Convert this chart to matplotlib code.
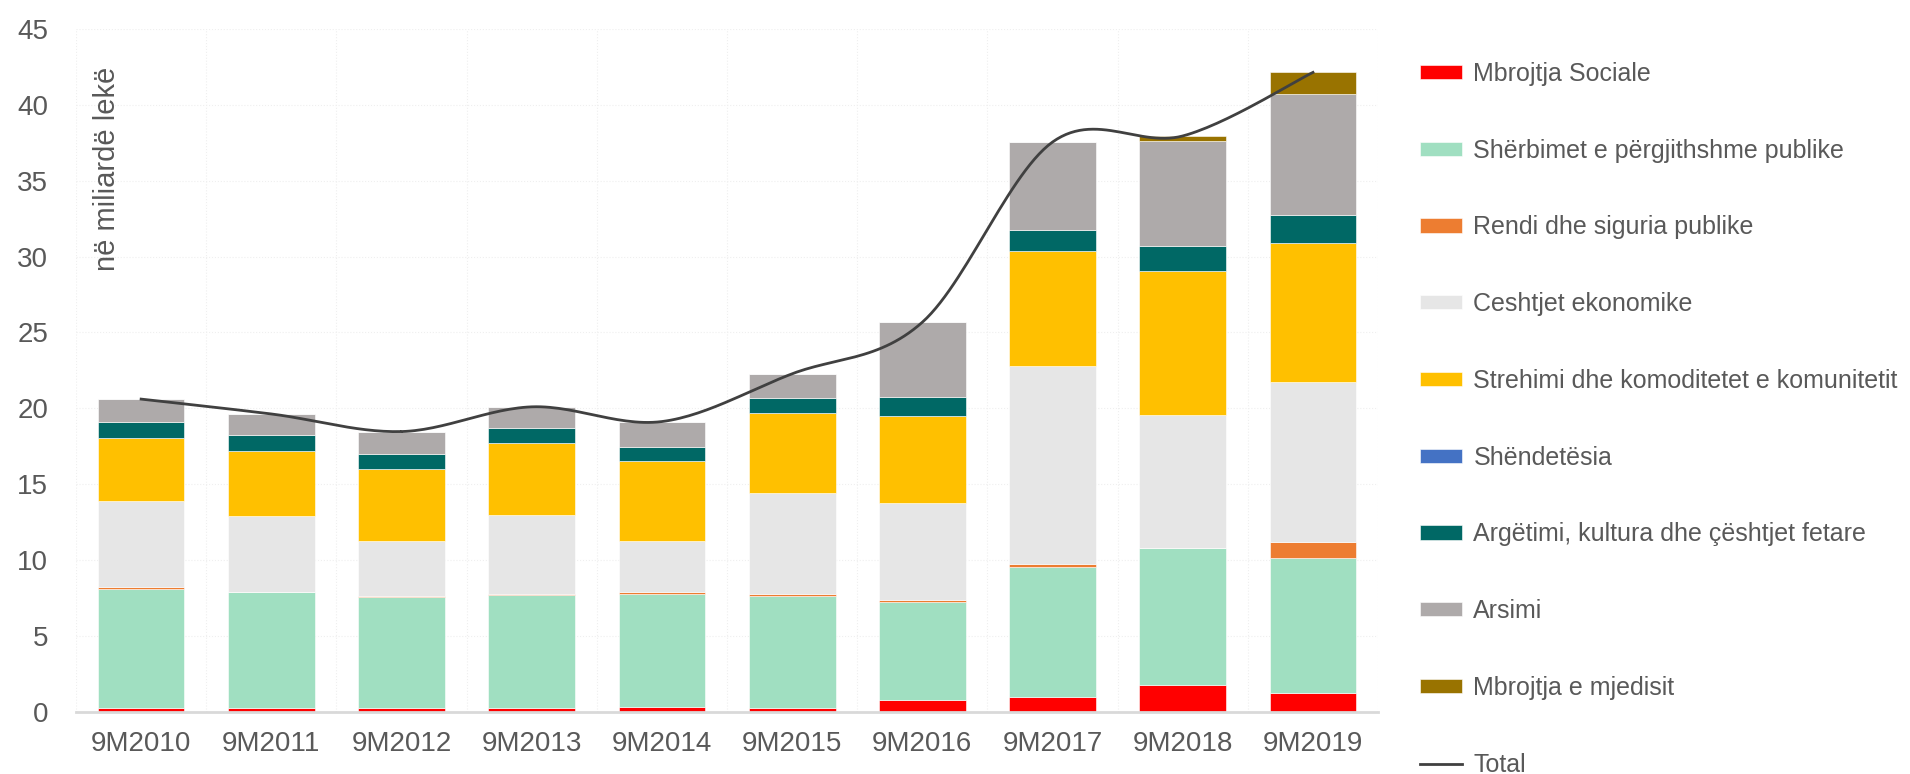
import numpy as np
import matplotlib.pyplot as plt

plt.rcParams['font.family'] = ['Liberation Sans', 'DejaVu Sans']

# te dhenat (miliarde leke)
vitet = ['9M2010', '9M2011', '9M2012', '9M2013', '9M2014',
         '9M2015', '9M2016', '9M2017', '9M2018', '9M2019']
mbrojtja_sociale = [0.25, 0.25, 0.25, 0.24, 0.29, 0.24, 0.73, 0.99, 1.75, 1.22]
sherbimet_publike = [7.83, 7.60, 7.33, 7.45, 7.49, 7.40, 6.51, 8.57, 9.00, 8.93]
rendi_siguria = [0.10, 0.06, 0.07, 0.09, 0.09, 0.12, 0.12, 0.17, 0.06, 1.06]
ceshtjet_ekonomike = [5.70, 4.98, 3.59, 5.18, 3.40, 6.66, 6.42, 13.02, 8.77, 10.55]
strehimi = [4.15, 4.32, 4.72, 4.77, 5.22, 5.29, 5.73, 7.62, 9.47, 9.10]
shendetesia = [0, 0, 0, 0, 0, 0, 0, 0, 0, 0]
argetimi = [1.03, 0.99, 0.99, 0.98, 0.95, 0.98, 1.22, 1.38, 1.65, 1.91]
arsimi = [1.54, 1.42, 1.51, 1.38, 1.63, 1.58, 4.94, 5.80, 6.92, 7.95]
mjedisi = [0, 0, 0, 0, 0.05, 0, 0, 0, 0.33, 1.42]

seri = [
    ('Mbrojtja Sociale', mbrojtja_sociale, '#FF0000'),
    ('Shërbimet e përgjithshme publike', sherbimet_publike, '#A0DFC1'),
    ('Rendi dhe siguria publike', rendi_siguria, '#ED7D31'),
    ('Ceshtjet ekonomike', ceshtjet_ekonomike, '#E6E6E6'),
    ('Strehimi dhe komoditetet e komunitetit', strehimi, '#FFC000'),
    ('Shëndetësia', shendetesia, '#4472C4'),
    ('Argëtimi, kultura dhe çështjet fetare', argetimi, '#006865'),
    ('Arsimi', arsimi, '#AEAAAA'),
    ('Mbrojtja e mjedisit', mjedisi, '#997300'),
]

fig = plt.figure(figsize=(19.1, 7.74), dpi=100)
ax = fig.add_axes([0.0398, 0.0807, 0.6817, 0.8818])

x = np.arange(len(vitet))
baza = np.zeros(len(vitet))
for emri, vlerat, ngjyra in seri:
    ax.bar(x, vlerat, 0.666, bottom=baza, color=ngjyra, label=emri,
           edgecolor='white', linewidth=0.4)
    baza = baza + np.array(vlerat)

# linja e lemuar e totalit (si ne Excel)
total = baza
p = np.concatenate([[total[0]], total, [total[-1]]])
px = np.concatenate([[x[0]], x, [x[-1]]])
xs, ys = [], []
t = np.linspace(0, 1, 30)
for i in range(1, len(p) - 2):
    for arr, out in ((px, xs), (p, ys)):
        p0, p1, p2, p3 = arr[i - 1], arr[i], arr[i + 1], arr[i + 2]
        out.extend(0.5 * (2 * p1 + (-p0 + p2) * t +
                          (2 * p0 - 5 * p1 + 4 * p2 - p3) * t ** 2 +
                          (-p0 + 3 * p1 - 3 * p2 + p3) * t ** 3))
vija, = ax.plot(xs, ys, color='#404040', linewidth=2, label='Total')

ax.set_xlim(-0.5, len(vitet) - 0.5)
ax.set_ylim(0, 45)
ax.set_yticks(range(0, 50, 5))
ax.set_xticks(x)
ax.set_xticklabels(vitet)
ax.tick_params(axis='both', length=0, labelsize=20, colors='#595959')
ax.tick_params(axis='y', pad=20)
ax.tick_params(axis='x', pad=14)

for s in ['top', 'right', 'left']:
    ax.spines[s].set_visible(False)
ax.spines['bottom'].set_color('#D9D9D9')
ax.spines['bottom'].set_linewidth(2)

ax.set_axisbelow(True)
ax.yaxis.grid(True, color='#EFEFEF', linewidth=0.8, linestyle=':')
ax.set_xticks(np.arange(-0.5, len(vitet), 1), minor=True)
ax.xaxis.grid(True, which='minor', color='#EFEFEF', linewidth=0.8, linestyle=':')
ax.tick_params(axis='x', which='minor', length=0)

ax.text(0.024, 0.944, 'në miliardë lekë', transform=ax.transAxes, rotation=90,
        fontsize=21, color='#595959', ha='center', va='top')

handles, labels = ax.get_legend_handles_labels()
handles = handles[1:] + handles[:1]
labels = labels[1:] + labels[:1]
fig.legend(handles, labels, loc='upper left', bbox_to_anchor=(0.738, 0.933),
           frameon=False, fontsize=18, labelcolor='#595959', handlelength=1.7,
           handleheight=0.5, handletextpad=0.45, labelspacing=2.11,
           borderaxespad=0)

fig.savefig('out.png', dpi=100)
